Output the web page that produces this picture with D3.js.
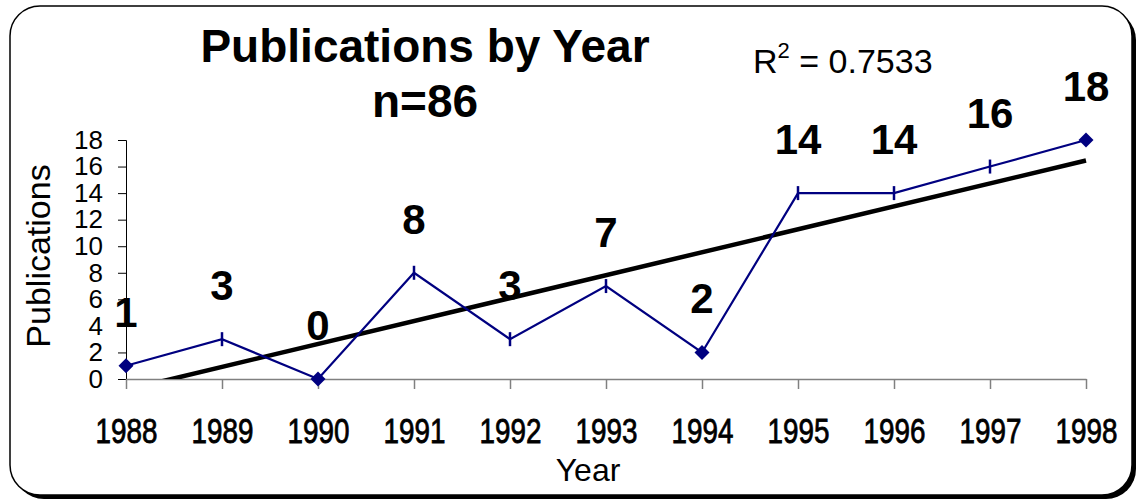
<!DOCTYPE html>
<html>
<head>
<meta charset="utf-8">
<script src="https://cdn.jsdelivr.net/npm/d3@7"></script>
<style>
	body { margin: 0; background: #fff; }
	svg { display: block; font-family: "Liberation Sans", Arial, sans-serif; }
</style>
</head>
<body>
<div class="chart"></div>
<script>
// data
var years = ["1988", "1989", "1990", "1991", "1992", "1993", "1994", "1995", "1996", "1997", "1998"];
var pubs = [1, 3, 0, 8, 3, 7, 2, 14, 14, 16, 18];
var markerTypes = ["diamond", "dash", "diamond", "dash", "dash", "dash", "diamond", "dash", "dash", "dash", "diamond"];
var yTicks = [0, 2, 4, 6, 8, 10, 12, 14, 16, 18];

var W = 1139, H = 501;
var plot = { left: 126, right: 1086, top: 140, bottom: 379 };

var svg = d3.select(".chart").append("svg")
	.attr("width", W)
	.attr("height", H);

// frame with shadow
svg.append("rect")
	.attr("x", 14).attr("y", 10)
	.attr("width", 1122).attr("height", 489)
	.attr("rx", 30).attr("ry", 30)
	.attr("fill", "#000");
svg.append("rect")
	.attr("x", 10).attr("y", 6)
	.attr("width", 1122).attr("height", 489)
	.attr("rx", 30).attr("ry", 30)
	.attr("fill", "#fff")
	.attr("stroke", "#000")
	.attr("stroke-width", 1.5);

var x = d3.scalePoint().domain(years).range([plot.left, plot.right]);
var y = d3.scaleLinear().domain([0, 18]).range([plot.bottom, plot.top]);

// titles
svg.append("text")
	.attr("x", 425).attr("y", 62)
	.attr("text-anchor", "middle")
	.style("font-size", "46px").style("font-weight", "bold")
	.text("Publications by Year");
svg.append("text")
	.attr("x", 425).attr("y", 117)
	.attr("text-anchor", "middle")
	.style("font-size", "46px").style("font-weight", "bold")
	.text("n=86");

// R squared of the linear trend
var n = pubs.length,
	idx = d3.range(1, n + 1),
	mx = d3.mean(idx), my = d3.mean(pubs),
	sxy = d3.sum(idx, function (d, i) { return (d - mx) * (pubs[i] - my); }),
	sxx = d3.sum(idx, function (d) { return (d - mx) * (d - mx); }),
	syy = d3.sum(pubs, function (d) { return (d - my) * (d - my); }),
	slope = sxy / sxx,
	intercept = my - slope * mx,
	r2 = sxy * sxy / (sxx * syy);

var rt = svg.append("text")
	.attr("x", 753).attr("y", 73)
	.style("font-size", "34px");
rt.append("tspan").text("R");
rt.append("tspan").attr("dy", -15).style("font-size", "22px").text("2");
rt.append("tspan").attr("dy", 15).text(" = " + r2.toFixed(4));

// axes
var yAxis = d3.axisLeft(y).tickValues(yTicks).tickSize(8).tickPadding(15);
var gy = svg.append("g")
	.attr("class", "y axis")
	.attr("transform", "translate(" + plot.left + ",0)")
	.call(yAxis);
gy.selectAll("text").style("font-size", "26px").style("font-family", "'Liberation Sans', Arial, sans-serif").attr("fill", "#000");
gy.selectAll("line, path").attr("stroke", "#000");

var xAxis = d3.axisBottom(x).tickSize(10).tickSizeOuter(0);
var gx = svg.append("g")
	.attr("class", "x axis")
	.attr("transform", "translate(0," + plot.bottom + ")")
	.call(xAxis);
gx.select(".domain").attr("stroke", "#808080").attr("stroke-width", 1.5);
gx.selectAll(".tick line").attr("stroke", "#808080").attr("stroke-width", 1.5);
// narrow face: squeeze the year labels horizontally
gx.selectAll("text")
	.attr("y", 64).attr("dy", 0)
	.attr("fill", "#000")
	.attr("stroke", "#000")
	.attr("stroke-width", 0.8)
	.attr("textLength", 62)
	.attr("lengthAdjust", "spacingAndGlyphs")
	.style("font-family", "'Liberation Sans', Arial, sans-serif")
	.style("font-size", "35px");

svg.append("text")
	.attr("x", 588).attr("y", 481)
	.attr("text-anchor", "middle")
	.style("font-size", "32px")
	.text("Year");
svg.append("text")
	.attr("transform", "translate(50,256) rotate(-90)")
	.attr("text-anchor", "middle")
	.style("font-size", "34px")
	.text("Publications");

// trend line, clipped to the plot area
svg.append("clipPath").attr("id", "plotclip")
	.append("rect")
	.attr("x", plot.left).attr("y", 0)
	.attr("width", plot.right - plot.left + 10)
	.attr("height", plot.bottom);
var trendPts = [1, n].map(function (k) {
	return [x(years[k - 1]), y(intercept + slope * k)];
});
svg.append("path")
	.attr("clip-path", "url(#plotclip)")
	.attr("d", d3.line()(trendPts))
	.attr("stroke", "#000")
	.attr("stroke-width", 4.5)
	.attr("fill", "none");

// data line
var line = d3.line()
	.x(function (d, i) { return x(years[i]); })
	.y(function (d) { return y(d); });
svg.append("path")
	.datum(pubs)
	.attr("d", line)
	.attr("stroke", "#000080")
	.attr("stroke-width", 2.2)
	.attr("fill", "none");

var marks = svg.append("g").selectAll("g")
	.data(pubs)
	.enter().append("g")
	.attr("transform", function (d, i) {
		return "translate(" + x(years[i]) + "," + y(d) + ")";
	});
marks.filter(function (d, i) { return markerTypes[i] === "diamond"; })
	.append("path")
	.attr("d", "M0,-7.5L7.5,0L0,7.5L-7.5,0Z")
	.attr("fill", "#000080");
marks.filter(function (d, i) { return markerTypes[i] === "dash"; })
	.append("line")
	.attr("y1", -7).attr("y2", 7)
	.attr("stroke", "#000080")
	.attr("stroke-width", 2.5);

// value labels
svg.append("g").selectAll("text")
	.data(pubs)
	.enter().append("text")
	.attr("x", function (d, i) { return x(years[i]); })
	.attr("y", function (d) { return y(d) - 39; })
	.attr("text-anchor", "middle")
	.style("font-size", "42px").style("font-weight", "bold")
	.text(function (d) { return d; });
</script>
</body>
</html>
